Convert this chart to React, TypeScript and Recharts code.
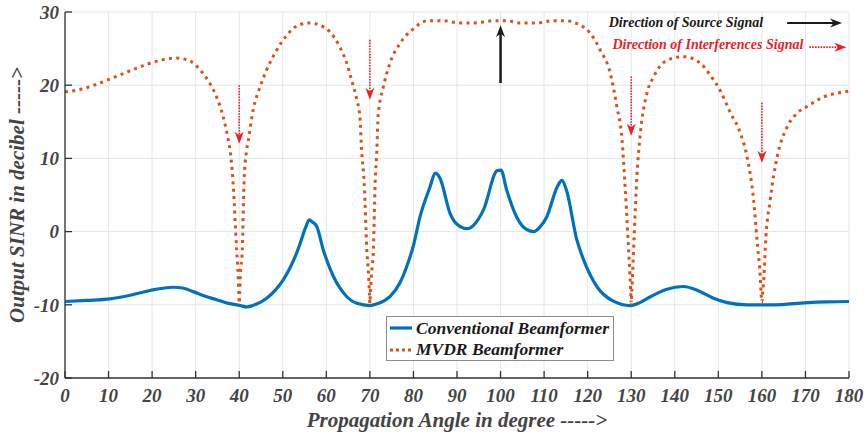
import React from 'react';
import { LineChart, Line, XAxis, YAxis, CartesianGrid, ReferenceLine, Legend } from 'recharts';

// MVDR beamformer output (deg, dB)
const mvdrAngle = [
  0, 3.4, 8, 12.6, 17.2, 21.8, 25.6, 28.7, 31, 33.3, 34.8, 36.3, 37.5, 37.9, 38.6, 39.4, 39.75, 39.9, 40, 40.1, 40.25,
  40.7, 41.1, 41.7, 42.1, 43.2, 44.8, 46.3, 48.6, 50.9, 53.6, 56.3, 58.5, 60.8, 63.1, 64.7, 65.8, 67, 67.7, 68.1, 68.7,
  69.3, 69.7, 69.9, 70, 70.1, 70.35, 70.8, 71.2, 71.6, 71.9, 73.1, 74.6, 76.9, 80, 83.1, 86.9, 90.7, 93.8, 98.4, 101.4,
  104.5, 108.3, 112.1, 115.2, 117.5, 118.3, 120.6, 122.9, 125.2, 126.7, 127.9, 128.6, 129.2, 129.7, 129.9, 130, 130.1,
  130.3, 130.7, 131.3, 132.1, 133.6, 135.1, 138.2, 142, 145.9, 148.1, 150.4, 152.8, 155.1, 156.6, 158.1, 159, 159.6,
  159.8, 159.9, 160, 160.2, 160.5, 160.8, 161.9, 163.5, 165.8, 168.1, 170.4, 174.2, 178, 180,
];
const mvdrSinr = [
  19.1, 19.4, 20.3, 21.4, 22.5, 23.4, 23.7, 23.3, 22.1, 20.2, 18.4, 15.7, 12.5, 11.1, 6.6, -2.5, -6, -8.5, -9.8, -8.5, -6,
  -2.5, 6.6, 11.1, 12.5, 16.6, 19.8, 22.1, 24.8, 26.8, 28.2, 28.5, 28.2, 27.3, 25.2, 23.0, 20.7, 18.0, 15.7, 11.1, 6.6,
  -2.5, -6, -8.5, -9.8, -8.5, -6, -2.5, 6.6, 11.1, 15.9, 19.8, 23.0, 25.7, 27.7, 28.8, 28.8, 28.5, 28.5, 28.8, 28.8,
  28.5, 28.5, 28.8, 28.8, 28.4, 28.2, 27.1, 24.8, 21.6, 17.1, 12.5, 6.1, -0.2, -6, -8.5, -9.8, -8.5,
  -6, -0.2, 7.5, 13.4, 18.9, 21.1, 23.4, 23.9, 23.0, 21.4, 19.3, 16.2, 13.4, 10.2, 4.3, -2, -6,
  -8.3, -9.2, -9.6, -8.3, -6, -2, 4.3, 10.2, 14.3, 16.2, 17.1, 18.4, 19.0, 19.2,
];

// Conventional beamformer output (deg, dB)
const convAngle = [
  0, 5, 10.3, 15, 19.5, 24.8, 27, 29.4, 32, 34.8, 37.5, 40.2, 41.7, 44, 46.3, 48.3, 50.1, 51.7, 53.2, 54, 55.2, 56.1,
  56.8, 57.8, 59.3, 61.6, 63, 64.7, 67, 70, 72, 74.6, 76.9, 78.5, 80, 81.5, 83.8, 85, 86.1, 88.4, 90, 92.3, 94, 96.1,
  99.2, 100.1, 101.4, 103.7, 105.5, 107.6, 109, 110.6, 113, 114.1, 115.2, 117.5, 119.1, 122.1, 125.9, 129.8, 132,
  134.4, 138, 142, 145.5, 148.9, 152, 156.6, 162.7, 170.4, 175, 180,
];
const convSinr = [
  -9.55, -9.4, -9.2, -8.7, -8.05, -7.6, -7.7, -8.2, -8.8, -9.3, -9.8, -10.1, -10.3, -9.9, -9.1, -8.0, -6.6, -4.9, -2.9,
  -1.6, 0.5, 1.6, 1.3, 0.7, -2.5, -6.1, -7.6, -8.9, -9.8, -10.1, -9.8, -8.9, -7.0, -4.7, -1.9, 2.0, 6.1, 8.0, 7.3, 2.5,
  1, 0.4, 1, 3.0, 8.3, 8.4, 5.7, 2.0, 0.5, 0.0, 0.6, 2.0, 6.1, 7.0, 5.5, -1.1, -3.9, -7.5, -9.5, -10.1, -9.7,
  -8.9, -7.9, -7.5, -8.1, -9.1, -9.7, -10.0, -10.0, -9.7, -9.6, -9.55,
];

const xTicks = [0, 10, 20, 30, 40, 50, 60, 70, 80, 90, 100, 110, 120, 130, 140, 150, 160, 170, 180];
const yTicks = [-20, -10, 0, 10, 20, 30];

// annotation arrows
const interferenceAngles = [40, 70, 130, 160];
const interferenceFrom = [20.0, 26.2, 21.2, 17.6];
const interferenceTo = [12.0, 18.0, 13.1, 9.4];
const sourceAngle = 100;
const sourceFrom = 20.3;
const sourceTo = 28.2;

const mvdrData = mvdrAngle.map((x, i) => ({ x, y: mvdrSinr[i] }));
const convData = convAngle.map((x, i) => ({ x, y: convSinr[i] }));

const FONT = '"Liberation Serif", "Times New Roman", serif';
const RED = '#EE1C25';
const tickStyle = { fill: '#444', fontSize: 19, fontFamily: FONT, fontWeight: 'bold', fontStyle: 'italic' };
const noLabel = () => <g />;

const head = (x: number, y: number, dx: number, dy: number, len: number, half: number, fill: string) => {
  const px = -dy, py = dx;
  const bx = x - dx * len, by = y - dy * len;
  const nx = x - dx * len * 0.7, ny = y - dy * len * 0.7;
  return (
    <path
      d={`M${x},${y} L${bx + px * half},${by + py * half} L${nx},${ny} L${bx - px * half},${by - py * half} Z`}
      fill={fill}
    />
  );
};

const makeArrow = (color: string, dotted: boolean, width: number, text?: string, gap = 0, textDy = 0) => (p: any) => {
  const { x1, y1, x2, y2 } = p;
  const l = Math.hypot(x2 - x1, y2 - y1) || 1;
  const dx = (x2 - x1) / l, dy = (y2 - y1) / l;
  return (
    <g>
      <line
        x1={x1} y1={y1} x2={x2 - dx * 6} y2={y2 - dy * 6}
        stroke={color} strokeWidth={width} strokeDasharray={dotted ? '1.6 1.2' : undefined}
      />
      {head(x2, y2, dx, dy, 12, 4.5, color)}
      {text && (
        <text x={x1 - gap} y={y1 + textDy} textAnchor="end" fill={color} fontFamily={FONT}
          fontWeight="bold" fontStyle="italic" fontSize={14}>{text}</text>
      )}
    </g>
  );
};

const LegendBox = () => (
  <div style={{ width: 226, height: 43, border: '1px solid #8c8c8c', background: '#fff', fontFamily: FONT,
    fontWeight: 'bold', fontStyle: 'italic', fontSize: 17.5, color: '#1a1a1a', position: 'relative' }}>
    <svg width={30} height={43} style={{ position: 'absolute', left: 0, top: 0 }}>
      <line x1={3} x2={25} y1={11} y2={11} stroke="#0072BD" strokeWidth={3.2} />
      <line x1={3} x2={25} y1={33} y2={33} stroke="#D95319" strokeWidth={3} strokeDasharray="3 3" />
    </svg>
    <div style={{ position: 'absolute', left: 29, top: 1, lineHeight: '20px', whiteSpace: 'nowrap' }}>Conventional Beamformer</div>
    <div style={{ position: 'absolute', left: 29, top: 22, lineHeight: '20px', whiteSpace: 'nowrap' }}>MVDR Beamformer</div>
  </div>
);

const axisTitle = (text: string, vertical: boolean) => (p: any) => {
  const { x, y, width, height } = p.viewBox;
  if (vertical) {
    const cx = 24, cy = y + height / 2;
    return (
      <text x={cx} y={cy} transform={`rotate(-90, ${cx}, ${cy})`} textAnchor="middle" fill="#444" fontFamily={FONT}
        fontWeight="bold" fontStyle="italic" fontSize={21}>{text}</text>
    );
  }
  return (
    <text x={x + width / 2} y={y + 49} textAnchor="middle" fill="#444" fontFamily={FONT}
      fontWeight="bold" fontStyle="italic" fontSize={21}>{text}</text>
  );
};

export default function App() {
  return (
    <div style={{ position: 'absolute', left: 0, top: 0, width: 865, height: 434, background: '#fff' }}>
      <LineChart width={865} height={434} margin={{ top: 12, right: 16, bottom: 0, left: 0 }}>
        <CartesianGrid stroke="#e6e6e6" strokeWidth={1} />
        <XAxis
          dataKey="x" type="number" domain={[0, 180]} ticks={xTicks} interval={0} allowDataOverflow
          height={56} stroke="#333" strokeWidth={1.3} tickSize={-7} tickMargin={18} tick={tickStyle}
          label={{ content: axisTitle('Propagation Angle in degree ----->', false) }}
        />
        <XAxis
          xAxisId="top" orientation="top" dataKey="x" type="number" domain={[0, 180]} ticks={xTicks} interval={0}
          height={0} stroke="#333" strokeWidth={1.3} tickSize={-7} tick={noLabel}
        />
        <YAxis
          type="number" domain={[-20, 30]} ticks={yTicks} interval={0} allowDataOverflow width={65}
          stroke="#333" strokeWidth={1.3} tickSize={-7} tickMargin={13} tick={tickStyle}
          label={{ content: axisTitle('Output SINR in decibel ----->', true) }}
        />
        <YAxis
          yAxisId="right" orientation="right" type="number" domain={[-20, 30]} ticks={yTicks} interval={0}
          width={0} stroke="#333" strokeWidth={1.3} tickSize={-7} tick={noLabel}
        />
        <Line data={convData} dataKey="y" name="Conventional Beamformer" type="monotone" stroke="#0072BD"
          strokeWidth={3.2} dot={false} isAnimationActive={false} />
        <Line data={mvdrData} dataKey="y" name="MVDR Beamformer" type="monotone" stroke="#D95319"
          strokeWidth={3} strokeDasharray="3 4.3" dot={false} isAnimationActive={false} />
        {interferenceAngles.map((a, i) => (
          <ReferenceLine key={a} segment={[{ x: a, y: interferenceFrom[i] }, { x: a, y: interferenceTo[i] }]}
            shape={makeArrow(RED, true, 1.6)} />
        ))}
        <ReferenceLine segment={[{ x: sourceAngle, y: sourceFrom }, { x: sourceAngle, y: sourceTo }]}
          shape={makeArrow('#1a1a1a', false, 2.5)} />
        <ReferenceLine segment={[{ x: 165.8, y: 28.5 }, { x: 178.4, y: 28.5 }]}
          shape={makeArrow('#1a1a1a', false, 2.2, 'Direction of Source Signal', 24, 4)} />
        <ReferenceLine segment={[{ x: 170.9, y: 25.2 }, { x: 179.4, y: 25.2 }]}
          shape={makeArrow(RED, true, 1.6, 'Direction of Interferences Signal', 6, 2)} />
        <Legend layout="vertical" align="center" verticalAlign="middle" content={() => <LegendBox />}
          wrapperStyle={{ left: 386, top: 316, width: 228 }} />
      </LineChart>
    </div>
  );
}
